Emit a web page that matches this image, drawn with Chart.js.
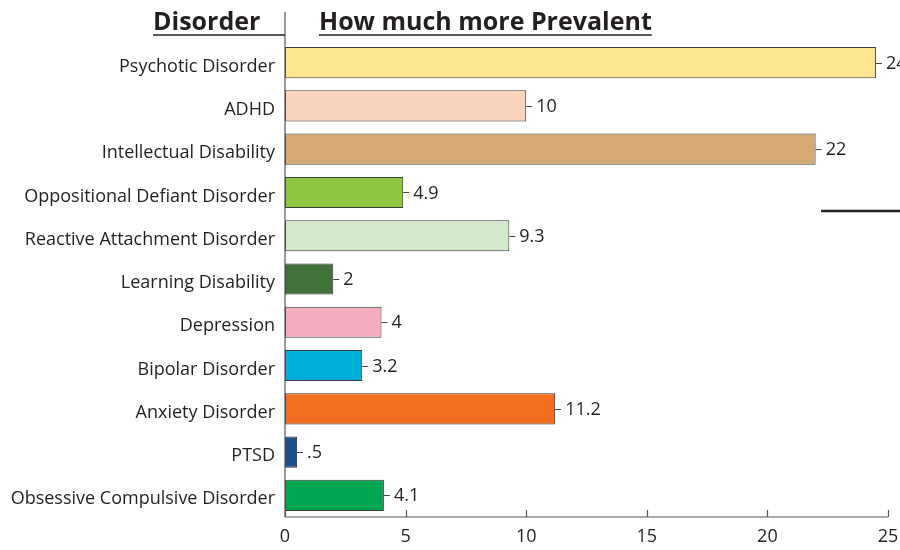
<!DOCTYPE html>
<html><head><meta charset="utf-8">
<script src="https://cdn.jsdelivr.net/npm/chart.js@4"></script>
<style>html,body{margin:0;padding:0;background:#fff}#wrap{width:900px;height:550px;position:relative}</style>
</head><body><div id="wrap"><canvas id="c" width="900" height="550"></canvas></div>
<script>
const categories = ["Psychotic Disorder","ADHD","Intellectual Disability","Oppositional Defiant Disorder","Reactive Attachment Disorder","Learning Disability","Depression","Bipolar Disorder","Anxiety Disorder","PTSD","Obsessive Compulsive Disorder"];
const values = [24.5, 10, 22, 4.9, 9.3, 2, 4, 3.2, 11.2, 0.5, 4.1];
const valueLabels = ["24", "10", "22", "4.9", "9.3", "2", "4", "3.2", "11.2", ".5", "4.1"];
const barColors = ["#fde68f","#f9d4bb","#d5a974","#8dc63f","#d4e8cb","#41723a","#f5adc0","#00aedb","#f26f22","#1f4e8c","#00a651"];
const xTicks = [0, 5, 10, 15, 20, 25];
const headerLeft = "Disorder";
const headerRight = "How much more Prevalent";

const FONT = "'Open Sans', sans-serif";
const TXT = "#231f20";

const decor = {
  id: 'decor',
  afterDraw(chart) {
    const ctx = chart.ctx;
    const x = chart.scales.x, y = chart.scales.y;
    const ca = chart.chartArea;
    ctx.save();
    // y axis line extended upward
    ctx.strokeStyle = "#555"; ctx.lineWidth = 1.2;
    ctx.beginPath(); ctx.moveTo(ca.left, 12); ctx.lineTo(ca.left, ca.bottom); ctx.stroke();
    // x axis line
    ctx.beginPath(); ctx.moveTo(ca.left, ca.bottom); ctx.lineTo(x.getPixelForValue(25), ca.bottom); ctx.stroke();
    // inward ticks
    xTicks.forEach(v => {
      const px = Math.round(x.getPixelForValue(v)) + 0.5;
      ctx.beginPath(); ctx.moveTo(px, ca.bottom); ctx.lineTo(px, ca.bottom - 7); ctx.stroke();
    });
    // category labels
    ctx.fillStyle = TXT;
    ctx.font = "18px " + FONT;
    ctx.textAlign = "right";
    ctx.textBaseline = "middle";
    categories.forEach((c, i) => {
      ctx.fillText(c, ca.left - 10, y.getPixelForValue(i) + 4);
    });
    // headers
    ctx.font = "bold 25px " + FONT;
    ctx.textBaseline = "alphabetic";
    ctx.textAlign = "left";
    ctx.fillText(headerLeft, 153, 30);
    const w2 = ctx.measureText(headerRight).width;
    ctx.fillText(headerRight, 319, 30);
    ctx.strokeStyle = "#231f20"; ctx.lineWidth = 1.6;
    ctx.beginPath(); ctx.moveTo(153, 35); ctx.lineTo(ca.left, 35); ctx.stroke();
    ctx.beginPath(); ctx.moveTo(319, 35); ctx.lineTo(319 + w2, 35); ctx.stroke();
    // value labels with leader dashes
    const meta = chart.getDatasetMeta(0);
    ctx.font = "18px " + FONT;
    ctx.textBaseline = "middle";
    ctx.lineWidth = 1;
    ctx.strokeStyle = "#444";
    meta.data.forEach((bar, i) => {
      const bx = bar.x, by = Math.round(bar.y) + 0.5;
      ctx.beginPath(); ctx.moveTo(bx, by); ctx.lineTo(bx + 6, by); ctx.stroke();
      ctx.fillText(valueLabels[i], bx + 10, bar.y + 1);
    });
    // stray line at right
    ctx.strokeStyle = "#222"; ctx.lineWidth = 2.5;
    ctx.beginPath(); ctx.moveTo(821, 211); ctx.lineTo(900, 211); ctx.stroke();
    ctx.restore();
  }
};

new Chart(document.getElementById('c'), {
  type: 'bar',
  data: {
    labels: categories,
    datasets: [{
      data: values,
      backgroundColor: barColors,
      borderColor: "#3a3a3a",
      borderWidth: 1,
      borderSkipped: false,
      barPercentage: 0.72,
      categoryPercentage: 1
    }]
  },
  options: {
    indexAxis: 'y',
    responsive: false,
    animation: false,
    layout: { padding: { top: 41, right: 12, left: 0, bottom: 0 } },
    plugins: { legend: { display: false }, tooltip: { enabled: false } },
    scales: {
      x: {
        min: 0, max: 25,
        afterBuildTicks: s => { s.ticks = xTicks.map(v => ({ value: v })); },
        afterFit: s => { s.height = 33; s.paddingRight = 0; s.paddingLeft = 0; },
        grid: { display: false, drawTicks: false },
        border: { display: false },
        ticks: { color: TXT, font: { family: FONT, size: 18 }, padding: 9 }
      },
      y: {
        afterFit: s => { s.width = 285; s.paddingTop = 0; s.paddingBottom = 0; },
        grid: { display: false, drawTicks: false },
        border: { display: false },
        ticks: { display: false }
      }
    }
  },
  plugins: [decor]
});
</script>
</body></html>
